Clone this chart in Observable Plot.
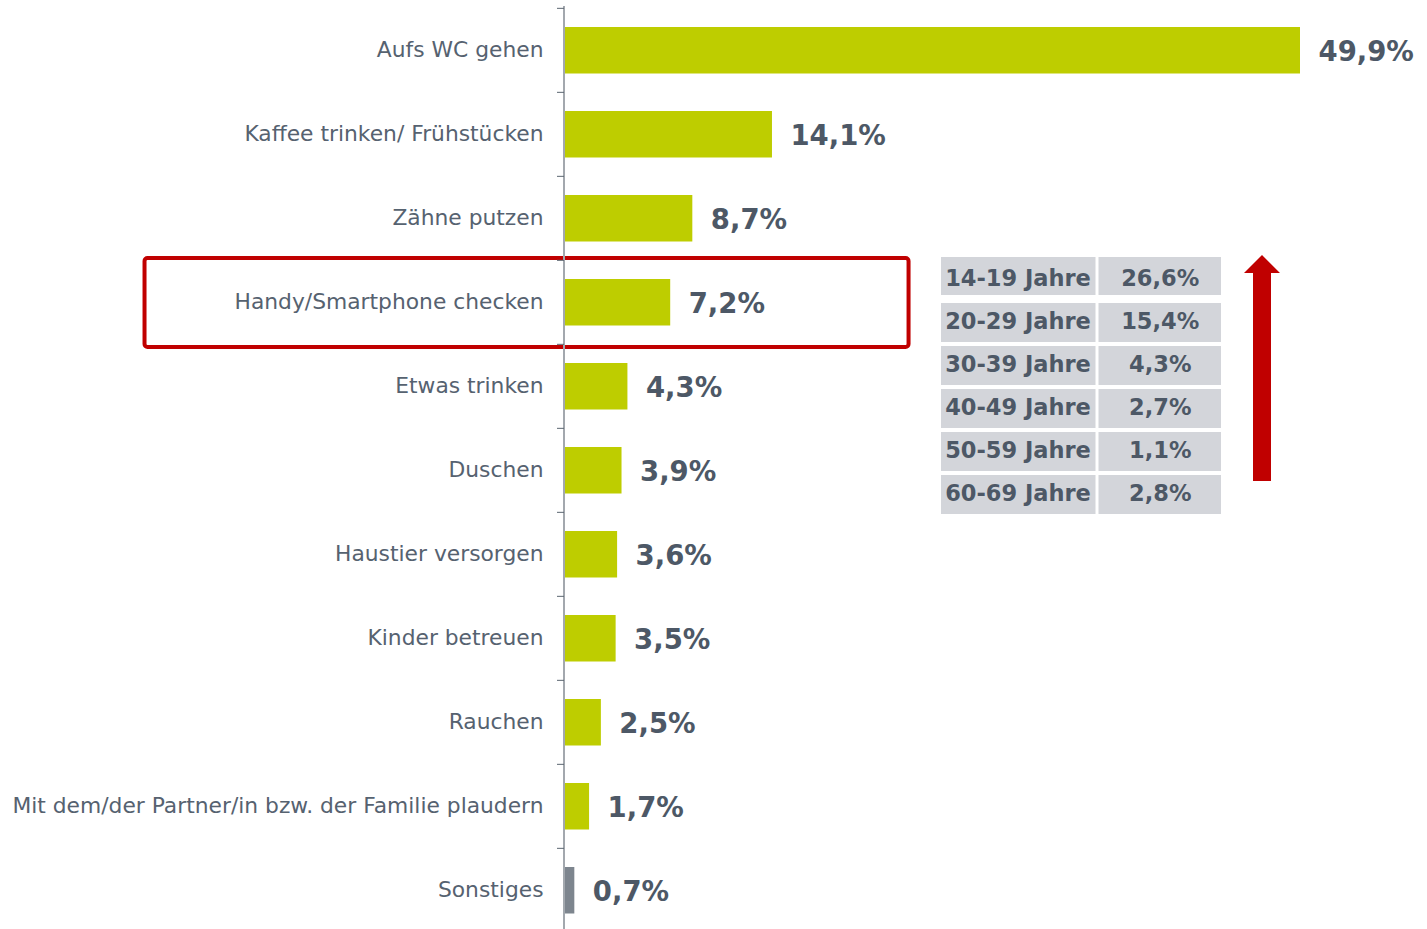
<!DOCTYPE html>
<html>
<head>
<meta charset="utf-8">
<script src="https://cdn.jsdelivr.net/npm/d3@7"></script>
<script src="https://cdn.jsdelivr.net/npm/@observablehq/plot@0.6"></script>
<style>
  html, body { margin: 0; padding: 0; background: #ffffff; }
  #wrap { position: relative; width: 1427px; height: 929px; overflow: hidden; }
  #table { position: absolute; left: 940px; top: 255px; line-height: 0; }
</style>
</head>
<body>
<div id="wrap"><div id="main"></div><div id="table"></div></div>
<script>
// ---- data ----
const categories = [
  "Aufs WC gehen",
  "Kaffee trinken/ Frühstücken",
  "Zähne putzen",
  "Handy/Smartphone checken",
  "Etwas trinken",
  "Duschen",
  "Haustier versorgen",
  "Kinder betreuen",
  "Rauchen",
  "Mit dem/der Partner/in bzw. der Familie plaudern",
  "Sonstiges"
];
const values = [49.9, 14.1, 8.7, 7.2, 4.3, 3.9, 3.6, 3.5, 2.5, 1.7, 0.7];
const highlighted = "Handy/Smartphone checken";
const otherCategory = "Sonstiges";

const ageGroups = ["14-19 Jahre", "20-29 Jahre", "30-39 Jahre", "40-49 Jahre", "50-59 Jahre", "60-69 Jahre"];
const ageValues = [26.6, 15.4, 4.3, 2.7, 1.1, 2.8];

// ---- styles ----
const GREEN = "#BECD00";
const GREY_BAR = "#7D858E";
const LABEL = "#566270";
const VALUE = "#4D5866";
const RED = "#C00000";
const CELL = "#D3D5DA";
const FONT = "DejaVu Sans, Verdana, sans-serif";

const fmt = v => v.toFixed(1).replace(".", ",") + "%";
const data = categories.map((c, i) => ({category: c, value: values[i]}));
const tableRows = ageGroups.map((g, i) => ({group: g, pct: ageValues[i]}));

const yRange = [6, 933.5];
const band = (yRange[1] - yRange[0]) / categories.length;

// highlight box extent, in x-scale units
const boxFrom = -28.44, boxTo = 23.36;

const main = Plot.plot({
  width: 1427,
  height: 929,
  marginLeft: 564,
  marginRight: 127,
  marginTop: 6,
  marginBottom: 0,
  style: {fontFamily: FONT, background: "white", overflow: "visible"},
  x: {domain: [0, 49.9], axis: null},
  y: {domain: categories, range: yRange, padding: 0, axis: null, label: null},
  marks: [
    Plot.barX([{category: highlighted}], {
      x1: () => boxFrom, x2: () => boxTo, y: "category",
      fill: "none", stroke: RED, strokeWidth: 4, rx: 3,
      insetTop: -2, insetBottom: -3
    }),
    Plot.barX(data, {
      filter: d => d.category !== otherCategory,
      x: "value", y: "category", fill: GREEN, insetTop: 19, insetBottom: 18.5
    }),
    Plot.barX(data, {
      filter: d => d.category === otherCategory,
      x: "value", y: "category", fill: GREY_BAR, insetTop: 19, insetBottom: 18.5
    }),
    Plot.ruleX([0], {stroke: "#A3A8AE", strokeWidth: 2, dx: -0.5}),
    Plot.ruleY(categories, {
      y: d => d, x1: 0, x2: 0, insetLeft: -7, dy: -band / 2,
      stroke: "#5B6570", strokeWidth: 1
    }),
    Plot.axisY({tickSize: 0, tickPadding: 21, fontSize: 21.8, fill: LABEL, color: LABEL, label: null}),
    Plot.text(data, {
      x: "value", y: "category", text: d => fmt(d.value),
      dx: 18, dy: 1.5, textAnchor: "start",
      fontSize: 27.5, fontWeight: "bold", fill: VALUE
    })
  ]
});
document.getElementById("main").appendChild(main);

const isFirst = d => d.group === ageGroups[0];
const table = Plot.plot({
  width: 345,
  height: 265,
  margin: 0,
  style: {fontFamily: FONT, background: "transparent", overflow: "visible"},
  x: {domain: ["age", "pct"], range: [0, 313], padding: 0, axis: null},
  y: {domain: ageGroups, range: [0, 261], padding: 0, axis: null},
  marks: [
    Plot.cell(tableRows, {filter: isFirst, x: () => "age", y: "group", fill: CELL, insetRight: 1.5, insetTop: 0, insetBottom: 5}),
    Plot.cell(tableRows, {filter: d => !isFirst(d), x: () => "age", y: "group", fill: CELL, insetRight: 1.5, insetTop: 3, insetBottom: 1}),
    Plot.cell(tableRows, {filter: isFirst, x: () => "pct", y: "group", fill: CELL, insetLeft: 1.5, insetRight: 32, insetTop: 0, insetBottom: 5}),
    Plot.cell(tableRows, {filter: d => !isFirst(d), x: () => "pct", y: "group", fill: CELL, insetLeft: 1.5, insetRight: 32, insetTop: 3, insetBottom: 1}),
    Plot.text(tableRows, {x: () => "age", y: "group", text: "group", dx: -1.5, dy: 0, fontSize: 22.5, fontWeight: "bold", fill: VALUE}),
    Plot.text(tableRows, {x: () => "pct", y: "group", text: d => fmt(d.pct), dx: -15.25, dy: 0, fontSize: 22.5, fontWeight: "bold", fill: VALUE})
  ]
});
d3.select(table).style("display", "block").append("path")
  .attr("d", "M313,18L313,226L331,226L331,18L340,18L322,0L304,18Z")
  .attr("fill", RED);
document.getElementById("table").appendChild(table);
</script>
</body>
</html>
